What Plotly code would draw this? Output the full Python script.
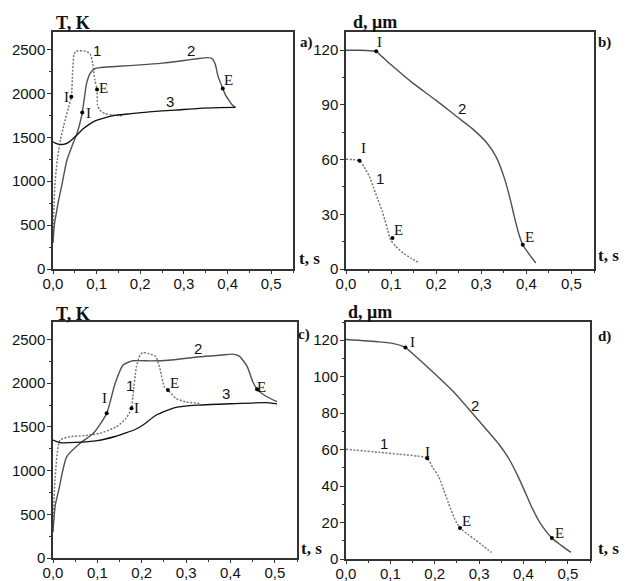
import plotly.graph_objects as go

# ---------------- data ----------------
# Panel a) temperature, T (K) vs t (s)
a1_t = [0, 0.002, 0.005, 0.01, 0.017, 0.025, 0.035, 0.042, 0.045, 0.048, 0.052, 0.06, 0.075, 0.085, 0.091, 0.096, 0.101, 0.102, 0.106, 0.112, 0.12, 0.135, 0.16]
a1_T = [300, 700, 1000, 1250, 1470, 1640, 1830, 1963, 2250, 2440, 2480, 2485, 2482, 2450, 2340, 2150, 2045, 1870, 1820, 1790, 1770, 1755, 1745]
a2_t = [0, 0.003, 0.008, 0.013, 0.02, 0.032, 0.045, 0.055, 0.066, 0.072, 0.077, 0.085, 0.096, 0.11, 0.15, 0.2, 0.25, 0.3, 0.33, 0.355, 0.365, 0.372, 0.378, 0.389, 0.396, 0.403, 0.41, 0.418]
a2_T = [300, 500, 650, 787, 950, 1242, 1420, 1545, 1753, 1950, 2114, 2230, 2284, 2295, 2310, 2325, 2345, 2375, 2395, 2408, 2395, 2330, 2200, 2057, 1975, 1924, 1875, 1841]
a3_t = [0, 0.01, 0.024, 0.035, 0.045, 0.055, 0.07, 0.092, 0.12, 0.145, 0.18, 0.22, 0.28, 0.335, 0.38, 0.418]
a3_T = [1450, 1425, 1420, 1440, 1480, 1526, 1600, 1677, 1725, 1753, 1770, 1790, 1810, 1830, 1838, 1841]
a_mark_t = [0.042, 0.101, 0.067, 0.389]
a_mark_T = [1961, 2045, 1784, 2057]

# Panel b) diameter, d (um) vs t (s)
b1_t = [0, 0.015, 0.03, 0.04, 0.052, 0.062, 0.071, 0.08, 0.086, 0.093, 0.098, 0.11, 0.127, 0.145, 0.163]
b1_d = [60.2, 60, 59.4, 56, 50.7, 44, 37.9, 32, 27, 21, 16.4, 12.5, 8.7, 5.8, 3.3]
b2_t = [0, 0.03, 0.06, 0.067, 0.08, 0.1, 0.149, 0.2, 0.246, 0.28, 0.313, 0.333, 0.351, 0.365, 0.373, 0.383, 0.392, 0.405, 0.421]
b2_d = [120, 120, 119.6, 119.4, 116.5, 112, 101.8, 92.5, 83.5, 77, 69, 61.5, 50, 37.5, 29, 19.5, 13.3, 8.5, 3.3]
b_mark_t = [0.03, 0.103, 0.067, 0.392]
b_mark_d = [59.4, 17, 119.4, 13.3]

# Panel c) temperature
c1_t = [0, 0.005, 0.016, 0.039, 0.07, 0.106, 0.143, 0.165, 0.177, 0.18, 0.188, 0.196, 0.203, 0.215, 0.232, 0.24, 0.251, 0.259, 0.277, 0.3, 0.33]
c1_T = [300, 932, 1350, 1388, 1400, 1427, 1502, 1600, 1712, 1845, 2187, 2320, 2352, 2340, 2302, 2187, 1959, 1921, 1826, 1785, 1769]
c2_t = [0, 0.005, 0.013, 0.031, 0.061, 0.091, 0.121, 0.14, 0.158, 0.18, 0.22, 0.26, 0.33, 0.38, 0.404, 0.42, 0.438, 0.45, 0.46, 0.479, 0.505]
c2_T = [300, 600, 780, 1160, 1313, 1427, 1655, 1997, 2207, 2256, 2255, 2262, 2302, 2322, 2332, 2310, 2187, 2020, 1932, 1853, 1788]
c3_t = [0, 0.016, 0.05, 0.1, 0.14, 0.166, 0.185, 0.203, 0.233, 0.277, 0.33, 0.4, 0.479, 0.505]
c3_T = [1350, 1320, 1322, 1343, 1390, 1434, 1470, 1522, 1636, 1724, 1750, 1765, 1777, 1763]
c_mark_t = [0.177, 0.259, 0.121, 0.46]
c_mark_T = [1712, 1921, 1655, 1932]

# Panel d) diameter
d1_t = [0, 0.075, 0.12, 0.16, 0.183, 0.196, 0.209, 0.22, 0.231, 0.245, 0.257, 0.275, 0.291, 0.31, 0.328]
d1_d = [60.2, 58.5, 57.5, 56.5, 55.3, 50, 45.2, 38, 30.6, 22, 17, 13.5, 10.6, 7, 3.6]
d2_t = [0, 0.075, 0.11, 0.134, 0.16, 0.187, 0.246, 0.298, 0.343, 0.366, 0.388, 0.405, 0.418, 0.44, 0.464, 0.485, 0.507]
d2_d = [120.4, 119.1, 118, 116, 110.5, 104.5, 90.8, 76.2, 63.5, 55.5, 45.2, 36, 28.8, 18.8, 11.5, 7.5, 3.6]
d_mark_t = [0.183, 0.257, 0.134, 0.464]
d_mark_d = [55.3, 17, 116, 11.5]

x_tickvals = [0, 0.1, 0.2, 0.3, 0.4, 0.5]
x_ticktext = ["0,0", "0,1", "0,2", "0,3", "0,4", "0,5"]
T_tickvals = [0, 500, 1000, 1500, 2000, 2500]
db_tickvals = [0, 30, 60, 90, 120]
dd_tickvals = [0, 20, 40, 60, 80, 100, 120]

# ---------------- figure ----------------
fig = go.Figure()

C1 = "#777777"
C2 = "#505050"
C3 = "#111111"
DOT = "2px,1.6px"

def add_line(x, y, xa, ya, color, dash, width=1.4):
    fig.add_trace(go.Scatter(x=x, y=y, xaxis=xa, yaxis=ya, mode="lines",
                             line=dict(color=color, dash=dash, width=width, shape="spline", smoothing=0.6),
                             showlegend=False, hoverinfo="skip"))

def add_marks(x, y, xa, ya):
    fig.add_trace(go.Scatter(x=x, y=y, xaxis=xa, yaxis=ya, mode="markers",
                             marker=dict(color="#000000", size=4),
                             showlegend=False, hoverinfo="skip"))

add_line(a1_t, a1_T, "x", "y", C1, DOT, 1.5)
add_line(a2_t, a2_T, "x", "y", C2, "solid")
add_line(a3_t, a3_T, "x", "y", C3, "solid", 1.3)
add_marks(a_mark_t, a_mark_T, "x", "y")

add_line(b1_t, b1_d, "x2", "y2", C1, DOT, 1.5)
add_line(b2_t, b2_d, "x2", "y2", C2, "solid")
add_marks(b_mark_t, b_mark_d, "x2", "y2")

add_line(c1_t, c1_T, "x3", "y3", C1, DOT, 1.5)
add_line(c2_t, c2_T, "x3", "y3", C2, "solid")
add_line(c3_t, c3_T, "x3", "y3", C3, "solid", 1.3)
add_marks(c_mark_t, c_mark_T, "x3", "y3")

add_line(d1_t, d1_d, "x4", "y4", C1, DOT, 1.5)
add_line(d2_t, d2_d, "x4", "y4", C2, "solid")
add_marks(d_mark_t, d_mark_d, "x4", "y4")

W, H = 626, 581
def px(x0, x1):
    return [x0 / W, x1 / W]
def py(ytop, ybot):
    return [1 - ybot / H, 1 - ytop / H]

tickfont = dict(family="Liberation Sans, Arial, sans-serif", size=15, color="#111")

def xax(domain, anchor):
    return dict(domain=domain, anchor=anchor, range=[0, 0.55], tickvals=x_tickvals, ticktext=x_ticktext,
                ticks="outside", ticklen=3, tickwidth=1, tickcolor="#333", ticklabelstandoff=-3,
                minor=dict(ticks="outside", ticklen=2, dtick=0.05, tickcolor="#333"),
                showline=True, linecolor="#333", linewidth=1.5, mirror=True, automargin=False,
                showgrid=False, zeroline=False, tickfont=tickfont)

def yax(domain, anchor, rng, tv, minor_dt):
    return dict(domain=domain, anchor=anchor, range=rng, tickvals=tv,
                ticks="outside", ticklen=4, tickwidth=1, tickcolor="#333", ticklabelstandoff=-1,
                minor=dict(ticks="outside", ticklen=2, dtick=minor_dt, tickcolor="#333"),
                showline=True, linecolor="#333", linewidth=1.5, mirror=True, automargin=False,
                showgrid=False, zeroline=False, tickfont=tickfont)

fig.update_layout(
    width=W, height=H, margin=dict(l=0, r=0, t=0, b=0, autoexpand=False),
    paper_bgcolor="white", plot_bgcolor="white",
    xaxis=xax(px(53, 293), "y"), yaxis=yax(py(32, 269), "x", [0, 2700], T_tickvals, 250),
    xaxis2=xax(px(346, 594), "y2"), yaxis2=yax(py(32, 269), "x2", [0, 130], db_tickvals, 15),
    xaxis3=xax(px(53, 297), "y3"), yaxis3=yax(py(322, 558), "x3", [0, 2700], T_tickvals, 250),
    xaxis4=xax(px(346, 590), "y4"), yaxis4=yax(py(322, 559), "x4", [0, 130], dd_tickvals, 10),
)

serif = "Liberation Serif, Times New Roman, serif"
sans = "Liberation Sans, Arial, sans-serif"
ann = []

def lab(x, y, text, xr, yr, font, size, bold=False):
    t = "<b>" + text + "</b>" if bold else text
    ann.append(dict(x=x, y=y, xref=xr, yref=yr, text=t, showarrow=False,
                    font=dict(family=font, size=size, color="#111"),
                    xanchor="center", yanchor="middle"))

# curve labels (data coords)
for (x, y, t, f) in [(0.1, 2492, "1", sans), (0.316, 2492, "2", sans), (0.267, 1905, "3", sans),
                     (0.030, 1961, "I", serif), (0.115, 2057, "E", serif),
                     (0.081, 1773, "I", serif), (0.403, 2151, "E", serif)]:
    lab(x, y, t, "x", "y", f, 15)
for (x, y, t, f) in [(0.075, 124.5, "I", serif), (0.257, 88, "2", sans), (0.039, 66.2, "I", serif),
                     (0.075, 49.8, "1", sans), (0.116, 21.5, "E", serif), (0.406, 17.5, "E", serif)]:
    lab(x, y, t, "x2", "y2", f, 15)
for (x, y, t, f) in [(0.117, 1826, "I", serif), (0.173, 1978, "1", sans), (0.188, 1712, "I", serif),
                     (0.326, 2397, "2", sans), (0.274, 1998, "E", serif), (0.389, 1884, "3", sans),
                     (0.471, 1959, "E", serif)]:
    lab(x, y, t, "x3", "y3", f, 15)
for (x, y, t, f) in [(0.149, 119, "I", serif), (0.291, 84.4, "2", sans), (0.086, 63.5, "1", sans),
                     (0.183, 58.9, "I", serif), (0.272, 20.6, "E", serif), (0.481, 14.2, "E", serif)]:
    lab(x, y, t, "x4", "y4", f, 15)

# axis titles and panel letters (paper coords from pixel positions)
def pl(xp, yp, text, size, xanchor="center"):
    ann.append(dict(x=xp / W, y=1 - yp / H, xref="paper", yref="paper", text="<b>" + text + "</b>",
                    showarrow=False, font=dict(family=serif, size=size, color="#111"),
                    xanchor=xanchor, yanchor="middle"))

pl(73, 23, "T, K", 18)
pl(73, 314, "T, K", 18)
pl(375, 22, "d, μm", 18)
pl(370, 312, "d, μm", 18)
pl(297, 258, "t, s", 17, "left")
pl(596, 255, "t, s", 17, "left")
pl(299, 548, "t, s", 17, "left")
pl(596, 548, "t, s", 17, "left")
pl(306, 42, "a)", 15)
pl(604, 42, "b)", 15)
pl(304, 334, "c)", 15)
pl(604, 337, "d)", 15)

fig.update_layout(annotations=ann)
fig.write_html("out.html", config={"displayModeBar": False},
               post_script="document.body.style.margin='0px';document.body.style.overflow='hidden';")
